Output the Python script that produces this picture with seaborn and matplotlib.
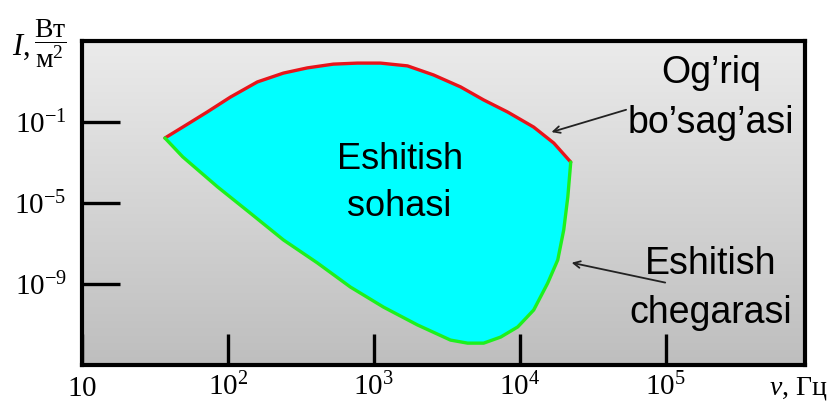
import numpy as np
import pandas as pd
import seaborn as sns
import matplotlib.pyplot as plt
from matplotlib.colors import LinearSegmentedColormap

sns.set_theme(style="ticks")
plt.rcParams['font.family'] = ['Liberation Sans', 'DejaVu Sans']
plt.rcParams['mathtext.fontset'] = 'custom'
plt.rcParams['mathtext.rm'] = 'Liberation Serif'
plt.rcParams['mathtext.it'] = 'Liberation Serif:italic'
plt.rcParams['text.color'] = 'black'
plt.rcParams['xtick.labelcolor'] = 'black'
plt.rcParams['ytick.labelcolor'] = 'black'

# pain threshold (upper, red), Hz / W per m^2
pain_freq = [37, 49, 72, 104, 159, 240, 350, 527, 771, 1110, 1700, 2565, 3930, 5650, 8260, 12450, 17100, 22340]
pain_int = [0.0162, 0.056, 0.31, 1.7, 9.5, 26, 47, 72, 81, 81, 59, 21, 5.4, 1.23, 0.31, 0.056, 0.0091, 0.00105]
# hearing threshold (lower, green)
hear_freq = [37, 49, 85, 142, 240, 410, 690, 1165, 1990, 3350, 4390, 5650, 7400, 9680, 12450, 15520, 18200,
             20000, 21330, 22340]
hear_int = [0.0162, 1.9e-3, 6.2e-5, 3.2e-6, 1.5e-7, 1.1e-8, 7.1e-10, 7.2e-11, 9.5e-12, 1.7e-12, 1.2e-12, 1.2e-12,
            2.4e-12, 7.6e-12, 5.2e-11, 1.1e-9, 1.55e-8, 4.7e-7, 2.0e-5, 0.00105]

x_ticks = [10, 1e2, 1e3, 1e4, 1e5]
x_labels = ['$10$', '$10^{2}$', '$10^{3}$', '$10^{4}$', '$10^{5}$']
y_ticks = [1e-9, 1e-5, 1e-1]
y_labels = ['$10^{-9}$', '$10^{-5}$', '$10^{-1}$']

pain = pd.DataFrame({'freq': pain_freq, 'I': pain_int})
hear = pd.DataFrame({'freq': hear_freq, 'I': hear_int})

fig = plt.figure(figsize=(8.35, 4.01), dpi=100)
ax = fig.add_axes([82/835, 1-365/401, (805-82)/835, (365-41)/401])
ax.set_xscale('log')
ax.set_yscale('log')
ax.set_xlim(10, 9e5)
ax.set_ylim(1e-13, 1e3)

# grey gradient background, light on top
grad = np.linspace(0, 1, 256).reshape(-1, 1)
cmap = LinearSegmentedColormap.from_list('g', ['#EBEBEB', '#BEBEBE'])
ax.imshow(grad, cmap=cmap, aspect='auto', extent=[0, 1, 0, 1], transform=ax.transAxes, zorder=0)

# hearing region
ax.fill(np.r_[pain['freq'], hear['freq'][::-1]], np.r_[pain['I'], hear['I'][::-1]],
        color='#00FFFF', lw=0, zorder=1)
sns.lineplot(data=pain, x='freq', y='I', sort=False, estimator=None, color='#E8141B', lw=2.4,
             ax=ax, zorder=2, solid_joinstyle='round')
sns.lineplot(data=hear, x='freq', y='I', sort=False, estimator=None, color='#1EF01E', lw=2.4,
             ax=ax, zorder=2, solid_joinstyle='round')

ax.set_xticks(x_ticks)
ax.set_xticklabels(x_labels)
ax.set_yticks(y_ticks)
ax.set_yticklabels(y_labels)
ax.minorticks_off()
ax.tick_params(axis='x', direction='in', length=22, width=2.4, pad=22, labelsize=21, color='black')
ax.tick_params(axis='y', direction='in', length=27, width=2.4, pad=11, labelsize=21, color='black')
plt.setp(ax.get_xticklabels(), va='baseline')
ax.set_xlabel('')
ax.set_ylabel('')
for s in ax.spines.values():
    s.set_linewidth(3)
    s.set_color('black')
    s.set_zorder(5)

ax.text(1500, 1e-4, 'Eshitish\nsohasi', ha='center', va='center', fontsize=26, linespacing=1.45, zorder=3)
ax.text(2.04e5, 1.5, 'Og’riq\nbo’sag’asi', ha='center', va='center', fontsize=27, linespacing=1.5, zorder=3)
ax.text(2.04e5, 6e-10, 'Eshitish\nchegarasi', ha='center', va='center', fontsize=27, linespacing=1.45, zorder=3)

ax.annotate('', xy=(15800, 0.029), xytext=(55800, 0.44),
            arrowprops=dict(arrowstyle='->', color='#222222', lw=1.3), zorder=4)
ax.annotate('', xy=(21700, 1.2e-8), xytext=(103500, 1.1e-9),
            arrowprops=dict(arrowstyle='->', color='#222222', lw=1.3), zorder=4)

fig.text(798/835, 1-395/401, r'$\nu$, Гц', ha='center', va='baseline', fontsize=20, family='Liberation Serif')
fig.text(12/835, 1-55/401, r'$I$,', ha='left', va='baseline', fontsize=22, family='Liberation Serif')
fig.text(50/835, 1-44/401, r'$\dfrac{\mathrm{Вт}}{\mathrm{м}^{2}}$', ha='center', va='center',
         fontsize=20, family='Liberation Serif')

fig.savefig('out.png', dpi=100)
